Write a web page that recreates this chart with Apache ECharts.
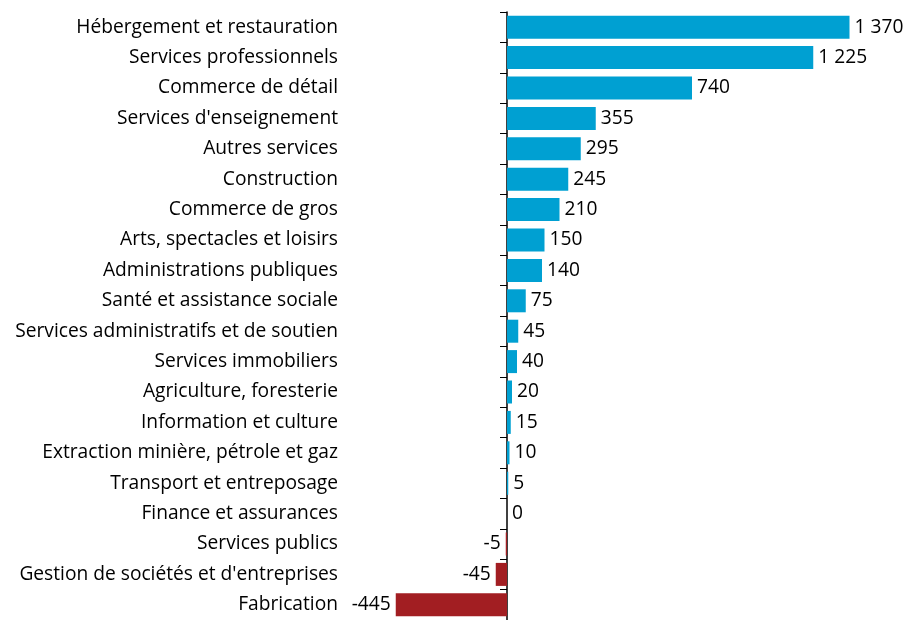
<!DOCTYPE html>
<html>
<head>
<meta charset="utf-8">
<script src="https://cdn.jsdelivr.net/npm/echarts@6/dist/echarts.min.js"></script>
<style>
  html, body { margin: 0; padding: 0; background: #fff; }
  #chart { width: 906px; height: 620px; }
</style>
</head>
<body>
<div id="chart"></div>
<script>
const categories = [
  'Hébergement et restauration',
  'Services professionnels',
  'Commerce de détail',
  "Services d'enseignement",
  'Autres services',
  'Construction',
  'Commerce de gros',
  'Arts, spectacles et loisirs',
  'Administrations publiques',
  'Santé et assistance sociale',
  'Services administratifs et de soutien',
  'Services immobiliers',
  'Agriculture, foresterie',
  'Information et culture',
  'Extraction minière, pétrole et gaz',
  'Transport et entreposage',
  'Finance et assurances',
  'Services publics',
  "Gestion de sociétés et d'entreprises",
  'Fabrication'
]
const values = [1370, 1225, 740, 355, 295, 245, 210, 150, 140, 75, 45, 40, 20, 15, 10, 5, 0, -5, -45, -445]

const font = 'Open Sans'
// séparateur de milliers : espace
const fmt = function (v) {
  const s = String(Math.abs(v)).replace(/\B(?=(\d{3})+(?!\d))/g, ' ')
  return (v < 0 ? '-' : '') + s
}

const chart = echarts.init(document.getElementById('chart'))
chart.setOption({
  animation: false,
  grid: { left: 382, right: 24, top: 12, height: 610 },
  xAxis: {
    type: 'value',
    min: -500,
    max: 1500,
    show: false
  },
  yAxis: [{
    // ligne verticale au zéro avec les graduations
    type: 'category',
    data: categories,
    inverse: true,
    axisLine: { onZero: true, lineStyle: { color: '#000', width: 1.5 } },
    axisTick: { show: true, length: 7, lineStyle: { color: '#000' } },
    axisLabel: { show: false }
  }, {
    // libellés à gauche
    type: 'category',
    data: categories,
    inverse: true,
    position: 'left',
    axisLine: { show: false, onZero: false },
    axisTick: { show: false },
    axisLabel: { margin: 44, color: '#000', fontSize: 19.2, fontFamily: font }
  }],
  series: [{
    type: 'bar',
    data: values.map(v => ({
      value: v,
      itemStyle: { color: v < 0 ? '#A21E22' : '#00A0D2' },
      label: { position: v < 0 ? 'left' : 'right' }
    })),
    barWidth: 23,
    label: {
      show: true,
      distance: 5,
      color: '#000',
      fontSize: 19.2,
      fontFamily: font,
      formatter: p => fmt(p.value)
    }
  }]
})
</script>
</body>
</html>
